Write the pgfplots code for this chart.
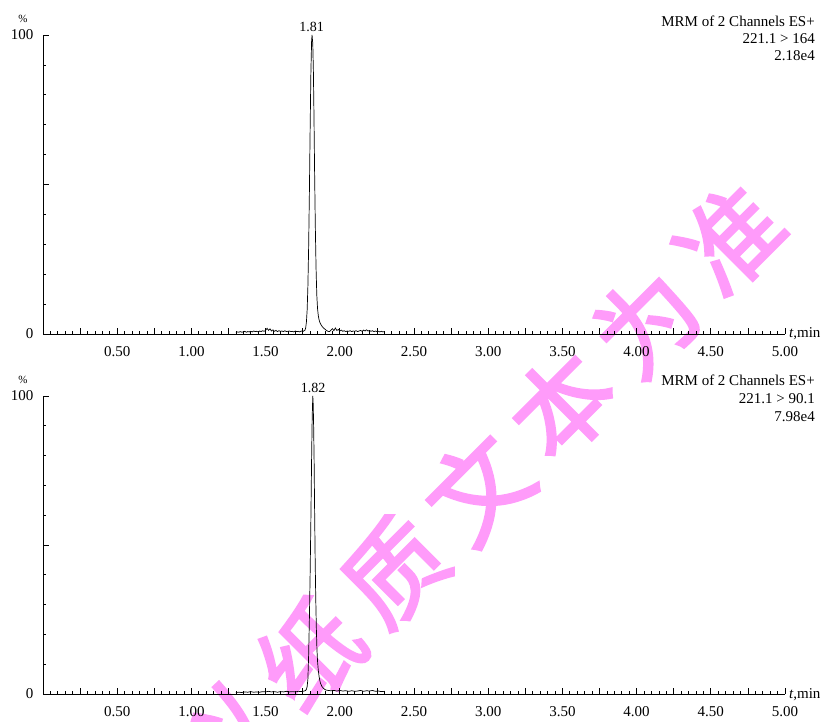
\documentclass[border=0pt]{standalone}
\usepackage{pgfplots}
\pgfplotsset{compat=1.18}
\usepackage{fontspec}
\setmainfont{Liberation Serif}
\newfontfamily\cjk[FakeBold=2.5]{Noto Sans CJK SC}
\definecolor{wm}{RGB}{255,155,250}

\pgfplotsset{
  chrom/.style={
    scale only axis, width=742pt,
    xmin=0, xmax=5, ymin=0, ymax=100,
    axis lines=left,
    axis line style={-, line width=0.8pt, black},
    clip=false,
    tick align=inside,
    xtick={0,0.25,...,5},
    xticklabels={,,0.50,,1.00,,1.50,,2.00,,2.50,,3.00,,3.50,,4.00,,4.50,,5.00},
    minor x tick num=4,
    ytick={0,50,100}, yticklabels={0,,100},
    minor ytick={10,20,30,40,60,70,80,90},
    major tick length=6pt, minor tick length=3pt,
    tick style={black, line width=0.7pt},
    /pgf/number format/assume math mode=true,
    ticklabel style={font=\fontsize{15}{18}\selectfont},
    yticklabel style={anchor=east, inner sep=0pt, xshift=-9.5pt},
    xticklabel style={anchor=north, inner sep=0pt, yshift=-12pt},
    xlabel={\textit{t},min},
    every axis x label/.style={at={(rel axis cs:1,0)}, anchor=base west, inner sep=0pt, xshift=4pt, yshift=-4pt, font=\fontsize{15}{18}\selectfont},
    ylabel={\%},
    every axis y label/.style={at={(rel axis cs:0,1)}, anchor=center, inner sep=0pt, xshift=-20pt, yshift=16pt, font=\fontsize{11}{13}\selectfont},
  }
}

\pgfplotstableread{
x y
1.30 0.6
1.31 0.7
1.32 0.6
1.33 0.8
1.34 0.6
1.35 0.7
1.36 0.9
1.37 0.6
1.38 0.8
1.39 0.7
1.40 0.9
1.41 0.7
1.42 1.0
1.43 0.8
1.44 0.9
1.45 0.7
1.46 1.0
1.47 0.8
1.48 1.1
1.49 0.9
1.50 1.2
1.51 1.9
1.52 1.2
1.53 1.7
1.54 1.0
1.55 1.4
1.56 0.9
1.57 1.2
1.58 0.8
1.59 1.1
1.60 0.9
1.61 1.0
1.62 0.8
1.63 1.1
1.64 0.8
1.65 0.9
1.66 1.0
1.67 0.8
1.68 0.9
1.69 0.7
1.70 1.0
1.71 0.8
1.72 0.9
1.73 0.7
1.74 1.0
1.75 0.8
1.76 1.1
1.765 1.3
1.770 2
1.775 4
1.780 8
1.785 16
1.790 29
1.795 47
1.800 68
1.805 87
1.810 98
1.813 100
1.818 97
1.822 88
1.826 73
1.830 55
1.835 36
1.840 22
1.845 13
1.850 8.5
1.855 6.2
1.860 4.8
1.865 4.0
1.870 3.4
1.880 2.6
1.890 2.0
1.900 1.6
1.910 1.2
1.920 0.9
1.93 0.8
1.94 1.3
1.95 1.8
1.96 1.1
1.97 2.0
1.98 1.2
1.99 1.5
2.00 1.0
2.01 1.3
2.02 0.9
2.03 1.1
2.04 0.8
2.05 1.0
2.06 0.9
2.07 1.1
2.08 0.8
2.09 1.0
2.10 0.9
2.11 1.1
2.12 0.8
2.13 1.0
2.14 1.2
2.15 0.9
2.16 1.3
2.17 1.0
2.18 1.4
2.19 1.0
2.20 1.2
2.21 0.9
2.22 1.1
2.23 0.8
2.24 1.0
2.25 0.8
2.26 0.9
2.27 0.7
2.28 0.9
2.29 0.7
2.30 0.8
}\toptrace

\pgfplotstableread{
x y
1.30 0.5
1.32 0.6
1.34 0.5
1.36 0.7
1.38 0.6
1.40 0.8
1.42 0.6
1.44 0.7
1.46 0.6
1.48 0.8
1.50 0.7
1.52 0.9
1.54 0.7
1.56 0.8
1.58 0.6
1.60 0.8
1.62 0.7
1.64 0.9
1.66 0.7
1.68 0.8
1.70 0.7
1.72 0.9
1.74 0.8
1.76 1.0
1.770 1.2
1.775 1.6
1.780 2.5
1.785 5
1.790 13
1.795 25
1.800 40
1.805 58
1.810 79
1.814 93
1.818 100
1.821 97
1.824 89
1.827 78
1.830 63
1.834 45
1.838 32
1.842 22
1.846 15
1.850 11
1.855 8
1.860 6
1.865 4.6
1.870 3.6
1.880 2.5
1.890 1.9
1.900 1.5
1.910 1.3
1.920 1.2
1.94 1.1
1.96 1.2
1.98 1.0
2.00 1.2
2.02 1.0
2.04 1.1
2.06 0.9
2.08 1.1
2.10 0.9
2.12 1.0
2.14 1.2
2.16 0.9
2.18 1.1
2.20 1.0
2.22 1.2
2.24 0.9
2.26 1.0
2.28 0.8
2.30 0.9
}\bottomtrace

\begin{document}
\begin{tikzpicture}
% watermark (behind the chart)
\begin{scope}[every node/.style={text=wm, rotate=45, inner sep=0pt, font=\cjk\fontsize{100}{100}\selectfont}]
\node at (226pt,-16pt) {以};
\node at (310pt,67pt) {纸};
\node at (394pt,150pt) {质};
\node at (478pt,233pt) {文};
\node at (562pt,316pt) {本};
\node at (646pt,399pt) {为};
\node at (730pt,482pt) {准};
\end{scope}

\begin{axis}[chrom, height=299pt, at={(43pt,387pt)}, anchor=south west]
\addplot[black, line width=0.7pt] table[x=x, y=y] {\toptrace};
\node[anchor=base, yshift=3pt, inner sep=0pt, font=\fontsize{14}{16}\selectfont] at (axis cs:1.81,100) {1.81};
\node[anchor=north east, align=right, inner sep=0pt, xshift=30pt, yshift=19.5pt, font=\fontsize{15}{17}\selectfont] at (rel axis cs:1,1) {MRM of 2 Channels ES+\\221.1 > 164\\2.18e4};
\end{axis}

\begin{axis}[chrom, height=298pt, at={(43pt,27pt)}, anchor=south west]
\addplot[black, line width=0.7pt] table[x=x, y=y] {\bottomtrace};
\node[anchor=base, yshift=3pt, inner sep=0pt, font=\fontsize{14}{16}\selectfont] at (axis cs:1.82,100) {1.82};
\node[anchor=north east, align=right, inner sep=0pt, xshift=30pt, yshift=21pt, font=\fontsize{15}{18}\selectfont] at (rel axis cs:1,1) {MRM of 2 Channels ES+\\221.1 > 90.1\\7.98e4};
\end{axis}

\pgfresetboundingbox
\path[use as bounding box] (0,0) rectangle (830pt,721pt);
\end{tikzpicture}
\end{document}
